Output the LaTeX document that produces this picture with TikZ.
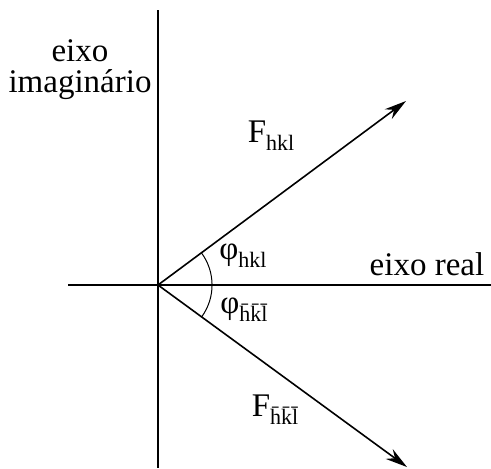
\documentclass[tikz,border=0pt]{standalone}
\usepackage{fontspec}
\setmainfont{Liberation Serif}
\usepackage{tikz}
\usetikzlibrary{arrows.meta,calc}
\newcommand{\idx}[1]{\raisebox{-0.55ex}{\fontsize{11}{12}\selectfont #1}}

\begin{document}
\begin{tikzpicture}[x=0.5pt, y=-0.5pt, >={Stealth[length=11pt,width=6pt]},
    font=\fontsize{16.5}{15.5}\selectfont]
    \useasboundingbox (0,0) rectangle (491,468);
    \coordinate (O) at (158,285);
    \coordinate (Ytop) at (158,10);  \coordinate (Ybot) at (158,468);
    \coordinate (Xl) at (68,285);   \coordinate (Xr) at (491,285);
    \coordinate (Fp) at (406,101);  \coordinate (Fm) at (407,467);
    % eixos
    \draw[line width=1.3pt] (Ytop) -- (Ybot);
    \draw[line width=1.3pt] (Xl) -- (Xr);
    % vetores
    \draw[->, line width=0.8pt] (O) -- (Fp);
    \draw[->, line width=0.8pt] (O) -- (Fm);
    % angulos
    \draw[line width=0.5pt] (201.4,252.8) arc[start angle=36.6, end angle=-35.9, radius=27pt];
    \node (imag) [align=center] at (80,70) {eixo\\imaginário};
    \node (real) at (427,264) {eixo real};
    \node (Fhkl) at (271,136) {F\idx{hkl}};
    \node (Fmhkl) at (275,410) {F\idx{\=h\=k\=l}};
    \node (phi) at (243,256) {φ\idx{hkl}};
    \node (mphi) at (244,310) {φ\idx{\=h\=k\=l}};
\end{tikzpicture}
\end{document}
